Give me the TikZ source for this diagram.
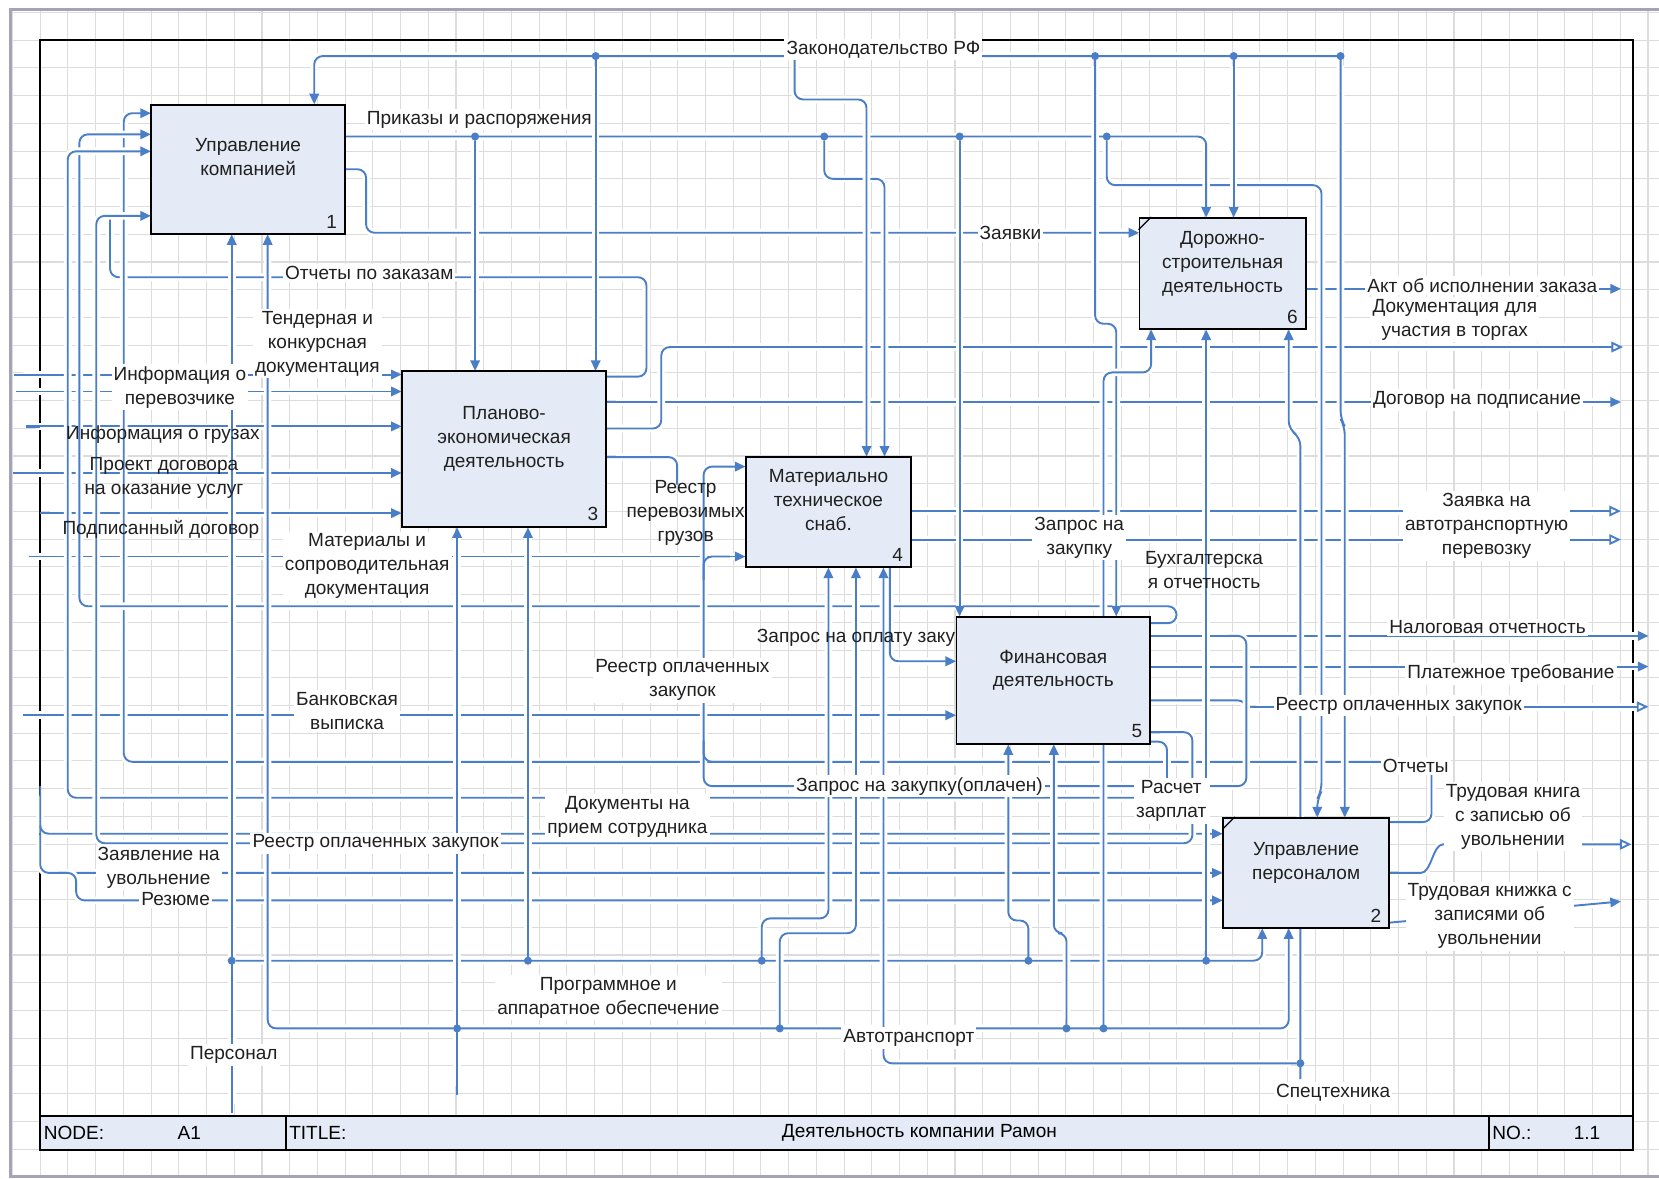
\documentclass[tikz,border=0pt]{standalone}
\usepackage{fontspec}
\setmainfont{Liberation Sans}
\usetikzlibrary{arrows.meta}
\definecolor{lb}{HTML}{4A7EC7}
\definecolor{boxfill}{HTML}{E5EBF6}
\definecolor{gridc}{HTML}{DCDCDC}
\definecolor{bord}{HTML}{A4A4B6}
\definecolor{txt}{HTML}{202020}
\newcommand{\lbf}{\fontsize{9pt}{11.3pt}\selectfont}
\tikzset{
 base/.style={draw=lb, line width=0.9pt, rounded corners=4pt},
 conn/.style={base, preaction={draw=white, line width=3.6pt, -, shorten <=4.5pt, shorten >=4.5pt}},
 arr/.style={conn, -{Triangle[length=5pt,width=4.5pt]}},
 darr/.style={conn, {Triangle[length=5pt,width=4.5pt]}-{Triangle[length=5pt,width=4.5pt]}},
 oarr/.style={conn, -{Triangle[open,length=5.5pt,width=5pt,fill=white]}},
 lbl/.style={font=\lbf, text=txt, align=center, inner sep=1pt, fill=white},
 tlbl/.style={font=\lbf, text=txt, align=center, inner sep=1pt},
 box/.style={draw=black, line width=0.9pt, fill=boxfill, align=center, font=\lbf, text=txt, inner sep=0pt},
 num/.style={anchor=south east, font=\lbf, text=txt, inner sep=0pt},
 jdot/.style={circle, fill=lb, inner sep=0pt, minimum size=3.8pt},
}
\begin{document}
\begin{tikzpicture}[x=0.5pt,y=-0.5pt]
\useasboundingbox (0,0) rectangle (1568,1114);
\fill[white] (0,0) rectangle (1568,1114);
% grid
\foreach \i in {0,...,59} { \draw[gridc, line width=0.5pt] ({11.8+26.2*\i},9) -- ({11.8+26.2*\i},1112); }
\foreach \j in {0,...,42} { \draw[gridc, line width=0.5pt] (10,{11.8+26.2*\j}) -- (1568,{11.8+26.2*\j}); }
% grey border
\draw[bord, line width=1.6pt] (1568,9) -- (10,9) -- (10,1112) -- (1568,1112);
% frame and title bar
\fill[boxfill] (38,1055) rectangle (1543,1087);
\draw[line width=0.9pt] (38,38) rectangle (1543,1087);
\draw[line width=0.9pt] (38,1055) -- (1543,1055);
\draw[line width=0.9pt] (270,1055) -- (270,1087);
\draw[line width=0.9pt] (1407,1055) -- (1407,1087);
\node[font=\lbf, anchor=west, inner sep=0pt] (tNode) at (41,1071) {NODE:};
\node[font=\lbf, inner sep=0pt] (tA1) at (179,1071) {A1};
\node[font=\lbf, anchor=west, inner sep=0pt] (tTitle) at (273,1071) {TITLE:};
\node[font=\lbf, inner sep=0pt] (tName) at (869,1071) {Деятельность компании Рамон};
\node[font=\lbf, anchor=west, inner sep=0pt] (tNo) at (1410,1071) {NO.:};
\node[font=\lbf, inner sep=0pt] (tNum) at (1500,1071) {1.1};

% box placeholders (named, drawn later on top of the connectors)
\path (234.5,160) node[minimum width=91.5pt, minimum height=61pt, inner sep=0pt] (b1) {}
      (476.5,424.5) node[minimum width=96.5pt, minimum height=73.5pt, inner sep=0pt] (b3) {}
      (783,484) node[minimum width=78pt, minimum height=52pt, inner sep=0pt] (b4) {}
      (995.5,643) node[minimum width=91.5pt, minimum height=60pt, inner sep=0pt] (b5) {}
      (1155.5,258.5) node[minimum width=78.5pt, minimum height=52.5pt, inner sep=0pt] (b6) {}
      (1234.5,825) node[minimum width=78.5pt, minimum height=52pt, inner sep=0pt] (b2) {};

% ===== 1. inputs from the left border
\draw[arr] (13,354) -- (b3.west |- 0,354);
\draw[arr] (15,370) -- (b3.west |- 0,370);
\draw[arr] (25,403) -- (b3.west |- 0,403);
\draw[line width=1.6pt, lb] (25,403) -- (38,403);
\draw[arr] (12,447) -- (b3.west |- 0,447);
\draw[arr] (38,485) -- (b3.west |- 0,485);
\draw[arr] (27,526) -- (b4.west |- 0,526);
\draw[arr] (22,676) -- (b5.west |- 0,676);
\draw[arr] (38,743) -- (38,788) -- (b2.west |- 0,788);
\draw[arr] (38,780) -- (38,825) -- (b2.west |- 0,825);
\draw[arr] (55,825) -- (72,825) -- (72,851) -- (b2.west |- 0,851);

% ===== 2. outputs to the right border
\draw[arr] (b6.east |- 0,273) -- (1532,273);
\draw[arr] (b3.east |- 0,380) -- (1532,380);
\draw[oarr] (b3.east |- 0,405) -- (625,405) -- (625,328) -- (1534,328);
\draw[conn] (b3.east |- 0,432) -- (640,432) -- (640,458);
\draw[oarr] (b4.east |- 0,483) -- (1532,483);
\draw[oarr] (b4.east |- 0,510) -- (1532,510);
\draw[arr] (b5.east |- 0,601) -- (1558,601);
\draw[arr] (b5.east |- 0,630) -- (1558,630);
\draw[conn] (b5.east |- 0,662) -- (1178,662) -- (1178,682);
\draw[oarr] (1178,668) -- (1558,668);
\draw[oarr] (b2.east |- 0,825) -- (1335,825) to[out=0,in=180] (1372,798) -- (1542,798);
\draw[arr] (b2.east |- 0,872) -- (1532,852);

% ===== 3. feedback loops to box 1
\draw[arr] (b1.east |- 0,160) -- (346,160) -- (346,220) -- (b6.west |- 0,220);
\draw[conn] (b3.east |- 0,356) -- (611,356) -- (611,262) -- (104,262) -- (104,204);
\draw[arr] (b2.east |- 0,777) -- (1353,777) -- (1353,720) -- (117,720) -- (117,107) -- (b1.west |- 0,107);
\draw[arr] (b5.east |- 0,589) -- (1112,589) -- (1112,573) -- (75,573) -- (75,127) -- (b1.west |- 0,127);
\draw[conn] (b5.east |- 0,701) -- (1103,701) -- (1103,742);
\draw[arr] (1085,754) -- (64,754) -- (64,143) -- (b1.west |- 0,143);
\draw[arr] (b5.east |- 0,692) -- (1127,692) -- (1127,797) -- (91,797) -- (91,204) -- (b1.west |- 0,204);

% ===== 4. box 4 and its loop
\draw[arr] (1160,601) -- (1178,601) -- (1178,743) -- (665,743) -- (665,441) -- (b4.west |- 0,441);
\draw[base] (665,548) -- (665,526) -- (690,526);
\draw[base] (665,700) -- (665,720) -- (690,720);
\draw[arr] (841,0 |- b4.south) -- (841,625) -- (b5.west |- 0,625);

% ===== 5. controls: Приказы и распоряжения
\draw[arr] (449,129) -- (449,0 |- b3.north);
\draw[arr] (779,129) -- (779,169) -- (836,169) -- (836,0 |- b4.north);
\draw[arr] (907,129) -- (907,0 |- b5.north);
\draw[arr] (1046,129) -- (1046,175) -- (1249,175) -- (1249,748) -- (1245,755) -- (1245,0 |- b2.north);
\draw[arr] (b1.east |- 0,129) -- (1140,129) -- (1140,0 |- b6.north);
% ===== controls: Законодательство РФ
\draw[arr] (1267,53) -- (297,53) -- (297,0 |- b1.north);
\draw[arr] (563,53) -- (563,0 |- b3.north);
\draw[arr] (751,53) -- (751,94) -- (819,94) -- (819,0 |- b4.north);
\draw[arr] (1035,53) -- (1035,306) -- (1055,306) -- (1055,0 |- b5.north);
\draw[arr] (1166,53) -- (1166,0 |- b6.north);
\draw[arr] (1267,53) -- (1267,396) -- (1271,403) -- (1271,0 |- b2.north);

% ===== 6. mechanisms: Персонал
\draw[arr] (219,908) -- (1193,908) -- (1193,0 |- b2.south);
\draw[arr] (499,908) -- (499,0 |- b3.south);
\draw[arr] (720,908) -- (720,868) -- (783,868) -- (783,0 |- b4.south);
\draw[arr] (972,908) -- (972,870) -- (953,870) -- (953,0 |- b5.south);
\draw[arr] (1140,908) -- (1140,0 |- b6.south);
\draw[arr] (219,1052) -- (219,0 |- b1.south);
% ===== Программное и аппаратное обеспечение
\draw[darr] (253,0 |- b1.south) -- (253,972) -- (1218,972) -- (1218,0 |- b2.south);
\draw[arr] (737,972) -- (737,882) -- (809,882) -- (809,0 |- b4.south);
\draw[arr] (1008,972) -- (1008,882) -- (996,882) -- (996,0 |- b5.south);
\draw[arr] (1043,972) -- (1043,352) -- (1088,352) -- (1088,0 |- b6.south);
\draw[arr] (432,1035) -- (432,0 |- b3.south);
% ===== Автотранспорт, Спецтехника
\draw[arr] (1229,1005) -- (835,1005) -- (835,0 |- b4.south);
\draw[arr] (1229,1020) -- (1229,413) -- (1218,406) -- (1218,0 |- b6.south);

% label partly hidden by box 5
\node[tlbl, anchor=west] (lZopl) at (713,603) {Запрос на оплату закупок};

% ===== boxes
\node[box, minimum width=91.5pt, minimum height=61pt] (B1) at (b1) {Управление\\компанией\\\mbox{}};
\node[box, minimum width=96.5pt, minimum height=73.5pt] (B3) at (b3) {Планово-\\экономическая\\деятельность\\\mbox{}};
\node[box, minimum width=78pt, minimum height=52pt] (B4) at (b4) {Материально\\техническое\\снаб.\\\mbox{}};
\node[box, minimum width=91.5pt, minimum height=60pt] (B5) at (b5) {Финансовая\\деятельность\\\mbox{}};
\node[box, minimum width=78.5pt, minimum height=52.5pt] (B6) at (b6) {Дорожно-\\строительная\\деятельность\\\mbox{}};
\node[box, minimum width=78.5pt, minimum height=52pt] (B2) at (b2) {Управление\\персоналом\\\mbox{}};
\node[num] (n1) at ([xshift=-4pt,yshift=3pt]B1.south east) {1};
\node[num] (n3) at ([xshift=-4pt,yshift=3pt]B3.south east) {3};
\node[num] (n4) at ([xshift=-4pt,yshift=3pt]B4.south east) {4};
\node[num] (n5) at ([xshift=-4pt,yshift=3pt]B5.south east) {5};
\node[num] (n6) at ([xshift=-4pt,yshift=3pt]B6.south east) {6};
\node[num] (n2) at ([xshift=-4pt,yshift=3pt]B2.south east) {2};
\draw[line width=0.6pt] ([yshift=-6pt]B6.north west) -- ([xshift=6pt]B6.north west);
\draw[line width=0.6pt] ([yshift=-6pt]B2.north west) -- ([xshift=6pt]B2.north west);

% ===== junction dots
\foreach \p in {(563,53),(751,53),(1035,53),(1166,53),(1267,53),(449,129),(779,129),(907,129),(1046,129),(219,908),(499,908),(720,908),(972,908),(1140,908),(432,972),(737,972),(1008,972),(1043,972),(1229,1005)}
  \node[jdot] at \p {};

% ===== labels
\node[lbl] (lZak) at (835,47) {Законодательство РФ};
\node[lbl] (lPrik) at (453,113) {Приказы и распоряжения};
\node[lbl] (lZayav) at (955,220) {Заявки};
\node[lbl] (lOtch) at (349,258) {Отчеты по заказам};
\node[lbl] (lTend) at (300,325) {Тендерная и\\конкурсная\\документация};
\node[lbl] (lInfP) at (170,366) {Информация о\\перевозчике};
\node[tlbl] (lInfG) at (154,411) {Информация о грузах};
\node[tlbl] (lProj) at (155,452) {Проект договора\\на оказание услуг};
\node[tlbl] (lPodp) at (152,500) {Подписанный договор};
\node[lbl] (lMat) at (347,535) {Материалы и\\сопроводительная\\документация};
\node[lbl] (lBank) at (328,672) {Банковская\\выписка};
\node[tlbl] (lReG) at (648,485) {Реестр\\перевозимых\\грузов};
\node[lbl] (lReO) at (645,643) {Реестр оплаченных\\закупок};
\node[lbl] (lZzo) at (869,743) {Запрос на закупку(оплачен)};
\node[lbl] (lDoc) at (593,772) {Документы на\\прием сотрудника};
\node[lbl] (lReL) at (355,797) {Реестр оплаченных закупок};
\node[lbl] (lZuv) at (150,820) {Заявление на\\увольнение};
\node[lbl] (lRez) at (166,850) {Резюме};
\node[lbl] (lProg) at (575,943) {Программное и\\аппаратное обеспечение};
\node[lbl] (lPers) at (221,997) {Персонал};
\node[lbl] (lAvto) at (859,981) {Автотранспорт};
\node[lbl] (lSpec) at (1260,1033) {Спецтехника};
\node[lbl] (lZz) at (1020,508) {Запрос на\\закупку};
\node[tlbl] (lBuh) at (1138,539) {Бухгалтерска\\я отчетность};
\node[lbl] (lAkt) at (1401,270) {Акт об исполнении заказа};
\node[lbl] (lDocT) at (1375,302) {Документация для\\участия в торгах};
\node[lbl] (lDog) at (1396,378) {Договор на подписание};
\node[lbl] (lZav) at (1405,497) {Заявка на\\автотранспортную\\перевозку};
\node[lbl] (lNal) at (1406,593) {Налоговая отчетность};
\node[lbl] (lPlat) at (1428,637) {Платежное требование};
\node[lbl] (lReR) at (1322,667) {Реестр оплаченных закупок};
\node[lbl] (lOt) at (1338,724) {Отчеты};
\node[lbl] (lTk1) at (1430,772) {Трудовая книга\\с записью об\\увольнении};
\node[lbl] (lTk2) at (1408,866) {Трудовая книжка с\\записями об\\увольнении};
\node[lbl] (lRas) at (1107,757) {Расчет\\зарплат};
\end{tikzpicture}
\end{document}
